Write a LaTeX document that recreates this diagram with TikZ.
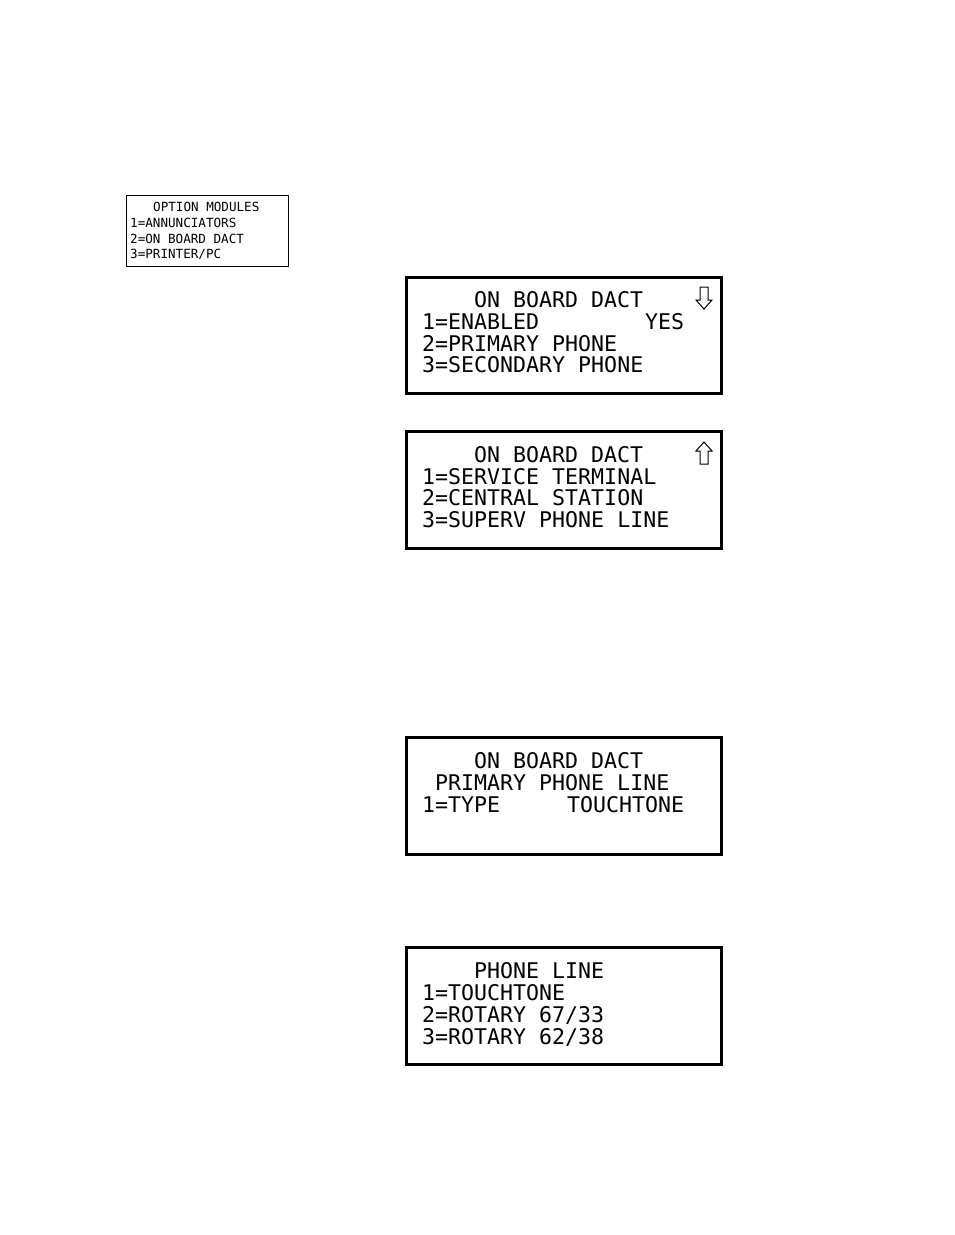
\documentclass[tikz,border=0pt]{standalone}
\usepackage{fontspec}
\newfontfamily\lcdfont{DejaVu Sans Mono}
\tikzset{
  screen/.style={draw=black,line width=3pt},
  smallscreen/.style={draw=black,line width=1pt},
  row/.style={anchor=base west,inner sep=0pt,font=\lcdfont\fontsize{21.6}{22}\selectfont},
  smallrow/.style={anchor=base west,inner sep=0pt,font=\lcdfont\fontsize{12.6}{13}\selectfont},
  scroll/.style={draw=black,line width=1pt,fill=white}
}
\begin{document}
\begin{tikzpicture}[x=1pt,y=-1pt]
	\useasboundingbox (0,0) rectangle (954,1235);
	% option modules menu
	\draw [smallscreen] (126,195) rectangle (288,266);
	\node [smallrow] (om0) at (153,211) {OPTION MODULES};
	\node [smallrow] (om1) at (130,227) {1=ANNUNCIATORS};
	\node [smallrow] (om2) at (130,243) {2=ON BOARD DACT};
	\node [smallrow] (om3) at (130,258) {3=PRINTER/PC};
	% dact screen 1
	\draw [screen] (406,277) rectangle (721,393);
	\node [row] (da0) at (474,307) {ON BOARD DACT};
	\node [row] (da1) at (422,329) {1=ENABLED};
	\node [row] (da1b) at (645,329) {YES};
	\node [row] (da2) at (422,351) {2=PRIMARY PHONE};
	\node [row] (da3) at (422,372) {3=SECONDARY PHONE};
	\draw [scroll] (700,287) -- (708,287) -- (708,300) -- (712,300) -- (704,309) -- (696,300) -- (700,300) -- cycle;
	% dact screen 2
	\draw [screen] (406,431) rectangle (721,548);
	\node [row] (db0) at (474,462) {ON BOARD DACT};
	\node [row] (db1) at (422,484) {1=SERVICE TERMINAL};
	\node [row] (db2) at (422,505) {2=CENTRAL STATION};
	\node [row] (db3) at (422,527) {3=SUPERV PHONE LINE};
	\draw [scroll] (700,464) -- (708,464) -- (708,451) -- (712,451) -- (704,442) -- (696,451) -- (700,451) -- cycle;
	% primary phone line
	\draw [screen] (406,737) rectangle (721,854);
	\node [row] (pp0) at (474,768) {ON BOARD DACT};
	\node [row] (pp1) at (435,790) {PRIMARY PHONE LINE};
	\node [row] (pp2) at (422,812) {1=TYPE};
	\node [row] (pp2b) at (567,812) {TOUCHTONE};
	% phone line type
	\draw [screen] (406,947) rectangle (721,1064);
	\node [row] (pl0) at (474,978) {PHONE LINE};
	\node [row] (pl1) at (422,1000) {1=TOUCHTONE};
	\node [row] (pl2) at (422,1022) {2=ROTARY 67/33};
	\node [row] (pl3) at (422,1044) {3=ROTARY 62/38};
\end{tikzpicture}
\end{document}
